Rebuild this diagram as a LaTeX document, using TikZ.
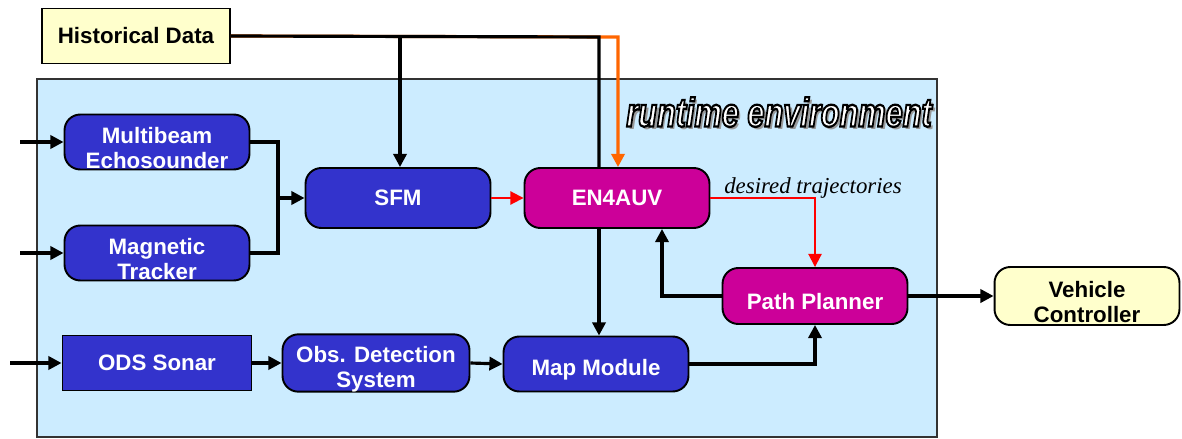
\documentclass[tikz,border=0pt]{standalone}
\usepackage{fontspec}
\setmainfont{Liberation Sans}
\newfontfamily\timesf{Liberation Serif}
\usetikzlibrary{arrows.meta}
\definecolor{envbg}{HTML}{CCECFF}
\definecolor{procblue}{HTML}{3333CC}
\definecolor{procmag}{HTML}{CC0099}
\definecolor{lightyel}{HTML}{FFFFCC}
\definecolor{arrorange}{HTML}{FF6600}
\definecolor{framegray}{HTML}{333333}
\newcommand\lowertext{\rule{0pt}{16pt}}
\tikzset{
  box/.style={draw=black, line width=1.1pt, font=\bfseries\fontsize{12.7}{14}\selectfont,
    text=white, align=center, inner sep=0pt, minimum width=3.7cm, minimum height=1.1cm},
  blueproc/.style={box, fill=procblue, rounded corners=9pt},
  magproc/.style={box, fill=procmag, rounded corners=9pt},
  yelproc/.style={box, fill=lightyel, text=black, rounded corners=9pt},
  wire/.style={line width=1.8pt, draw=black},
  conn/.style={wire, -{Triangle[length=7.5pt,width=7.5pt]}},
  redconn/.style={line width=1.1pt, draw=red, -{Triangle[length=7.5pt,width=7.5pt]}, color=red},
  orconn/.style={line width=1.8pt, draw=arrorange, -{Triangle[length=7.5pt,width=7.5pt]}, color=arrorange},
  rtfont/.style={font=\bfseries\itshape\fontsize{23}{24}\selectfont, xscale=0.76, inner sep=0pt}
}
\begin{document}
\begin{tikzpicture}[x=0.02cm,y=-0.02cm]
\useasboundingbox (0,0) rectangle (1182,439);
% environment
\node[draw=framegray, line width=1pt, fill=envbg, minimum width=18cm, minimum height=7.16cm, inner sep=0pt] (env) at (487,258) {};
% runtime environment title (outlined with shadow)
\node[rtfont, text=black!40] (rtshadow) at (782,115) {runtime environment};
\node[rtfont, text=white] (rt) at (779,112) {\special{pdf:literal direct 0 G 2 Tr 1.3 w}runtime environment\special{pdf:literal direct 0 Tr}};
% nodes
\node[box, fill=lightyel, text=black, minimum width=3.76cm] (hd) at (136,36) {Historical Data};
\node[blueproc] (mb) at (157,142) {\lowertext Multibeam\\Echosounder};
\node[blueproc] (mt) at (157,253) {\lowertext Magnetic\\Tracker};
\node[blueproc, minimum height=1.2cm] (sfm) at (398,198) {SFM};
\node[magproc, minimum height=1.2cm] (en) at (617,198) {EN4AUV};
\node[magproc, minimum height=1.12cm] (pp) at (815,296) {\lowertext Path Planner};
\node[box, fill=procblue, minimum width=3.78cm] (ods) at (157,363) {ODS Sonar};
\node[blueproc, minimum width=3.74cm] (obs) at (376,363) {\lowertext Obs. Detection\\System};
\node[blueproc] (map) at (596,364) {\lowertext Map Module};
\node[yelproc, minimum height=1.16cm] (vc) at (1087,296) {\lowertext Vehicle\\Controller};
% label
\node[font=\timesf\itshape\fontsize{13}{15}\selectfont, anchor=base, inner sep=0pt] (dt) at (813,193) {desired trajectories};
% coordinates
\coordinate (in1) at (20,142);
\coordinate (in2) at (20,253);
\coordinate (in3) at (10,363);
\coordinate (j) at (278,198);
\coordinate (hsplit) at (400,37);
\coordinate (hend) at (599,37);
\coordinate (oend) at (618,37);
\coordinate (fb) at (662,260);
% connectors
\draw[conn] (in1) -- (mb.west);
\draw[conn] (in2) -- (mt.west);
\draw[conn] (in3) -- (ods.west);
\draw[wire] (mb.east) -| (j);
\draw[wire] (mt.east) -| (j);
\draw[conn] (j) -- (sfm.west);
\draw[orconn] (hd.east) -- (oend) -- (oend |- en.north);
\draw[wire] (hd.east) -- (hend) -- (hend |- en.north);
\draw[conn] (hsplit) -- (hsplit |- sfm.north);
\draw[conn] (en.south -| hend) -- (hend |- map.north);
\draw[redconn] (sfm.east) -- (en.west);
\draw[redconn] (en.east) -| (pp.north);
\draw[conn] (pp.west) -| (fb |- en.south);
\draw[conn] (map.east) -| (pp.south);
\draw[conn] (ods.east) -- (obs.west);
\draw[conn] (obs.east) -- (map.west);
\draw[conn] (pp.east) -- (vc.west);
\end{tikzpicture}
\end{document}
